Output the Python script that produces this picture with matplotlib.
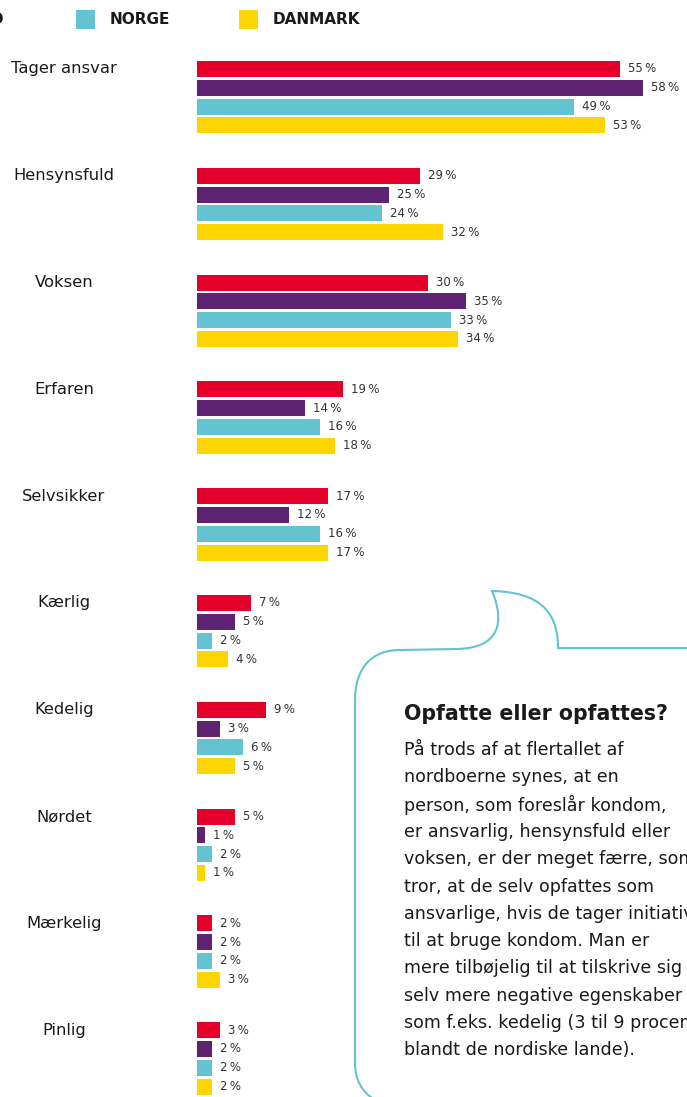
import numpy as np
import matplotlib
matplotlib.use("Agg")
from matplotlib import pyplot as plt
from matplotlib.path import Path
import matplotlib.patches as patches

# data
categories = ["Tager ansvar", "Hensynsfuld", "Voksen", "Erfaren", "Selvsikker",
              "Kærlig", "Kedelig", "Nørdet", "Mærkelig", "Pinlig"]
sverige = [55, 29, 30, 19, 17, 7, 9, 5, 2, 3]
finland = [58, 25, 35, 14, 12, 5, 3, 1, 2, 2]
norge = [49, 24, 33, 16, 16, 2, 6, 2, 2, 2]
danmark = [53, 32, 34, 18, 17, 4, 5, 1, 3, 2]
series_names = ["FINLAND", "NORGE", "DANMARK"]

colors = ["#e4002b", "#5f2373", "#63c3d1", "#ffd500"]
text_col = "#1a1a1a"

W, H = 687, 1097
fig = plt.figure(figsize=(W / 100, H / 100), dpi=100)

# axes over the whole figure: x in percent, y in pixels from the top
px_per_pct = 7.69
x0_px = 197
ax = fig.add_axes([0, 0, 1, 1])
ax.set_xlim(-x0_px / px_per_pct, (W - x0_px) / px_per_pct)
ax.set_ylim(H, 0)
ax.axis("off")

group_pitch = 106.8
bar_pitch = 18.8
bar_h = 16
first_center = 69

series = [sverige, finland, norge, danmark]
for i, cat in enumerate(categories):
    yc = first_center + group_pitch * i
    ax.text(-x0_px / px_per_pct + 64 / px_per_pct, yc, cat, ha="center", va="center",
            fontsize=11.8, color=text_col)
    for k, vals in enumerate(series):
        y = yc + bar_pitch * k
        v = vals[i]
        ax.barh(y, v, height=bar_h, left=0, color=colors[k], linewidth=0)
        ax.text(v + 8 / px_per_pct, y, f"{v}\u2009%", ha="left", va="center",
                fontsize=8.5, color="#333333")

# legend strip (first entry cut off at the left edge like the source)
leg_y = 19
for j, (name, col) in enumerate(zip(series_names, colors[1:])):
    sx = -87 + 163 * j
    fig.patches.append(patches.Rectangle((sx, H - leg_y - 10), 19, 19,
                                         transform=None, color=col, linewidth=0))
    if j == 0:
        fig.text(4 / W, 1 - leg_y / H, name, ha="right", va="center",
                 fontsize=11, fontweight="bold", color=text_col)
    else:
        fig.text((sx + 34) / W, 1 - leg_y / H, name, ha="left", va="center",
                 fontsize=11, fontweight="bold", color=text_col)

# speech bubble outline
bubble_col = "#63c3d1"
verts = [
    (W + 5, 648), (558, 648),
    (558, 612), (540, 592), (492, 591),
    (505, 622), (500, 648), (457, 649),
    (400, 650),
    (370, 650), (355, 670), (355, 700),
    (355, 1063),
    (355, 1080), (362, 1092), (375, 1100),
]
codes = [Path.MOVETO, Path.LINETO,
         Path.CURVE4, Path.CURVE4, Path.CURVE4,
         Path.CURVE4, Path.CURVE4, Path.CURVE4,
         Path.LINETO,
         Path.CURVE4, Path.CURVE4, Path.CURVE4,
         Path.LINETO,
         Path.CURVE4, Path.CURVE4, Path.CURVE4]
verts_disp = [(x, H - y) for x, y in verts]
bubble = patches.PathPatch(Path(verts_disp, codes), transform=None, fill=False,
                           edgecolor=bubble_col, linewidth=1.5)
fig.patches.append(bubble)

fig.text(404 / W, 1 - 714 / H, "Opfatte eller opfattes?", ha="left", va="center",
         fontsize=14.8, fontweight="bold", color=text_col)
body = ["På trods af at flertallet af",
        "nordboerne synes, at en",
        "person, som foreslår kondom,",
        "er ansvarlig, hensynsfuld eller",
        "voksen, er der meget færre, som",
        "tror, at de selv opfattes som",
        "ansvarlige, hvis de tager initiativ",
        "til at bruge kondom. Man er",
        "mere tilbøjelig til at tilskrive sig",
        "selv mere negative egenskaber",
        "som f.eks. kedelig (3 til 9 procent",
        "blandt de nordiske lande)."]
for n, line in enumerate(body):
    fig.text(404 / W, 1 - (750 + 27.3 * n) / H, line, ha="left", va="center",
             fontsize=12.6, color=text_col)

fig.savefig("out.png", dpi=100)
